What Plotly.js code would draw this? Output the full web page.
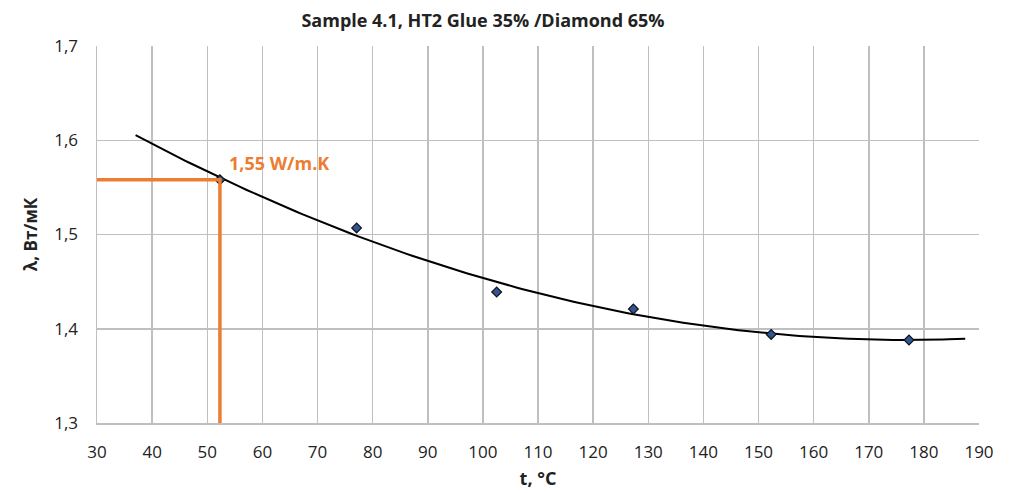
<!DOCTYPE html>
<html>
<head>
<meta charset="utf-8">
<script src="https://cdn.plot.ly/plotly-3.0.1.min.js"></script>
<style>html,body{margin:0;padding:0;background:#fff;}#chart{width:1010px;height:493px;}</style>
</head>
<body>
<div id="chart"></div>
<script>
// Measured points (t, °C ; λ, Вт/мК)
const tValues = [52.3, 77.1, 102.5, 127.3, 152.3, 177.3];
const lambdaValues = [1.558, 1.507, 1.439, 1.421, 1.394, 1.388];
// Trendline extent
const trendStart = 37;
const trendEnd = 187.5;
// Highlighted reading
const markT = 52.3;
const markLambda = 1.558;
const markLabel = '1,55 W/m.K';
const xTicks = [30,40,50,60,70,80,90,100,110,120,130,140,150,160,170,180,190];
const yTicks = [1.3,1.4,1.5,1.6,1.7];

// Least-squares 2nd order polynomial fit (as Excel trendline)
function polyfit2(xs, ys) {
  let n = xs.length, S = [0,0,0,0,0], T = [0,0,0];
  for (let i = 0; i < n; i++) {
    let p = 1;
    for (let k = 0; k < 5; k++) { S[k] += p; if (k < 3) T[k] += p * ys[i]; p *= xs[i]; }
  }
  const M = [[S[0],S[1],S[2],T[0]],[S[1],S[2],S[3],T[1]],[S[2],S[3],S[4],T[2]]];
  for (let c = 0; c < 3; c++) {
    for (let r = c + 1; r < 3; r++) {
      const f = M[r][c] / M[c][c];
      for (let k = c; k < 4; k++) M[r][k] -= f * M[c][k];
    }
  }
  const b = [0,0,0];
  for (let r = 2; r >= 0; r--) {
    let s = M[r][3];
    for (let k = r + 1; k < 3; k++) s -= M[r][k] * b[k];
    b[r] = s / M[r][r];
  }
  return b;
}
const coef = polyfit2(tValues, lambdaValues);
const trendX = [], trendY = [];
for (let i = 0; i <= 150; i++) {
  const x = trendStart + (trendEnd - trendStart) * i / 150;
  trendX.push(x);
  trendY.push(coef[0] + coef[1] * x + coef[2] * x * x);
}

const font = 'Open Sans, Noto Sans, sans-serif';
const orange = '#ED7D31';
const grid = '#bfbfbf';

const traces = [
  {x: trendX, y: trendY, mode: 'lines', line: {color: '#000', width: 2}, hoverinfo: 'skip'},
  {x: tValues, y: lambdaValues, mode: 'markers',
   marker: {symbol: 'diamond', size: 7.5, color: '#2f5597', line: {color: '#111', width: 1.2}}},
  {x: [xTicks[0], markT, markT], y: [markLambda, markLambda, yTicks[0]], mode: 'lines',
   line: {color: orange, width: 3.5}, cliponaxis: false}
];

const layout = {
  width: 1010, height: 493,
  margin: {l: 97, r: 31, t: 46, b: 70},
  paper_bgcolor: '#fff', plot_bgcolor: '#fff',
  showlegend: false,
  separators: ', ',
  font: {family: font, color: '#222', size: 15},
  title: {text: '<b>Sample 4.1, HT2 Glue 35% /Diamond 65%</b>', x: 483/1010, xanchor: 'center', y: 0.958, yanchor: 'middle',
          font: {family: font, size: 18, color: '#222'}},
  xaxis: {range: [30, 190], tickvals: xTicks, ticktext: xTicks.map(String), showgrid: true, gridcolor: grid, gridwidth: 1.5,
          zeroline: false, showline: true, linecolor: grid, linewidth: 1.5, mirror: false, ticks: '', ticklabelstandoff: 13,
          tickfont: {family: font, size: 17, color: '#222'},
          title: {text: '<b>t, °C</b>', font: {family: font, size: 18, color: '#222'}, standoff: 10}},
  yaxis: {range: [1.3, 1.7], tickvals: yTicks, ticktext: ['1,3','1,4','1,5','1,6','1,7'], showgrid: true, gridcolor: grid, gridwidth: 1.5,
          zeroline: false, showline: true, linecolor: grid, linewidth: 1.5, ticks: '', ticklabelstandoff: 14,
          tickfont: {family: font, size: 17, color: '#222'},
          title: {text: '<b>λ, Вт/мК</b>', font: {family: font, size: 17, color: '#222'}, standoff: 12}},
  annotations: [
    {x: markT, y: markLambda, xref: 'x', yref: 'y', text: '<b>' + markLabel + '</b>', showarrow: false,
     xanchor: 'left', yanchor: 'bottom', xshift: 7, yshift: 3, font: {family: font, size: 18, color: orange}}
  ]
};

Plotly.newPlot('chart', traces, layout, {displayModeBar: false, staticPlot: true});
</script>
</body>
</html>
